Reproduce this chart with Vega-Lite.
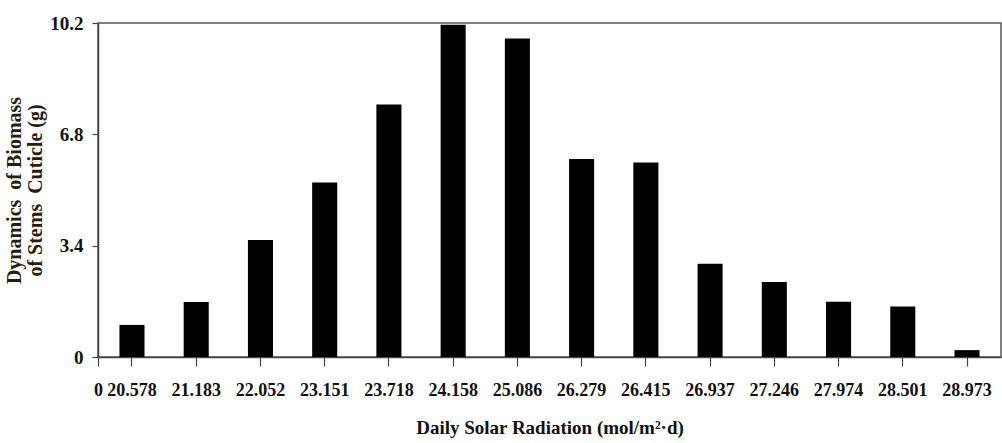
{
  "$schema": "https://vega.github.io/schema/vega-lite/v6.json",
  "width": 903,
  "height": 334,
  "autosize": {"type": "none"},
  "padding": {"left": 98, "top": 23, "right": 1, "bottom": 86},
  "background": "white",
  "config": {
    "view": {"stroke": "#555555", "strokeWidth": 1.5},
    "font": "Liberation Serif",
    "axis": {"grid": false, "domainColor": "#444444", "tickColor": "#444444", "labelFont": "Liberation Serif", "titleFont": "Liberation Serif", "labelFontWeight": "bold", "titleFontWeight": "bold", "labelColor": "#111111", "titleColor": "#111111"}
  },
  "layer": [
    {
      "data": {"values": [
        {"radiation": "20.578", "biomass": 0.98},
        {"radiation": "21.183", "biomass": 1.68},
        {"radiation": "22.052", "biomass": 3.57},
        {"radiation": "23.151", "biomass": 5.33},
        {"radiation": "23.718", "biomass": 7.71},
        {"radiation": "24.158", "biomass": 10.15},
        {"radiation": "25.086", "biomass": 9.73},
        {"radiation": "26.279", "biomass": 6.05},
        {"radiation": "26.415", "biomass": 5.94},
        {"radiation": "26.937", "biomass": 2.85},
        {"radiation": "27.246", "biomass": 2.29},
        {"radiation": "27.974", "biomass": 1.69},
        {"radiation": "28.501", "biomass": 1.54},
        {"radiation": "28.973", "biomass": 0.21}
      ]},
      "mark": {"type": "bar", "color": "#000000"},
      "encoding": {
        "x": {
          "field": "radiation", "type": "nominal", "sort": null,
          "scale": {"paddingInner": 0.61, "paddingOuter": 0.334},
          "axis": {"title": "Daily Solar Radiation (mol/m²·d)", "labelAngle": 0, "labelFontSize": 18, "titleFontSize": 19, "tickSize": 9, "tickWidth": 1.2, "domainWidth": 1.5, "labelPadding": 15, "titlePadding": 19}
        },
        "y": {
          "field": "biomass", "type": "quantitative",
          "scale": {"domain": [0, 10.2], "nice": false, "zero": true},
          "axis": {"values": [0, 3.4, 6.8, 10.2], "format": ".1~f", "title": ["Dynamics\u00a0\u00a0of Biomass", "of Stems\u00a0\u00a0Cuticle (g)"], "labelFontSize": 19, "titleFontSize": 20, "titleColor": "#2a1c0c", "titleLineHeight": 21, "tickSize": 6, "tickWidth": 1.2, "domainWidth": 1.5, "labelPadding": 9, "titlePadding": 4}
        }
      }
    },
    {
      "data": {"values": [{"origin": 0}]},
      "mark": {"type": "rule", "opacity": 0},
      "encoding": {
        "x": {
          "field": "origin", "type": "quantitative",
          "scale": {"domain": [0, 1], "nice": false},
          "axis": {"orient": "bottom", "values": [0], "title": null, "labelFontSize": 18, "tickSize": 9, "tickWidth": 1.2, "domain": false, "labelPadding": 15, "labelFlush": false}
        }
      }
    }
  ],
  "resolve": {"scale": {"x": "independent"}}
}
